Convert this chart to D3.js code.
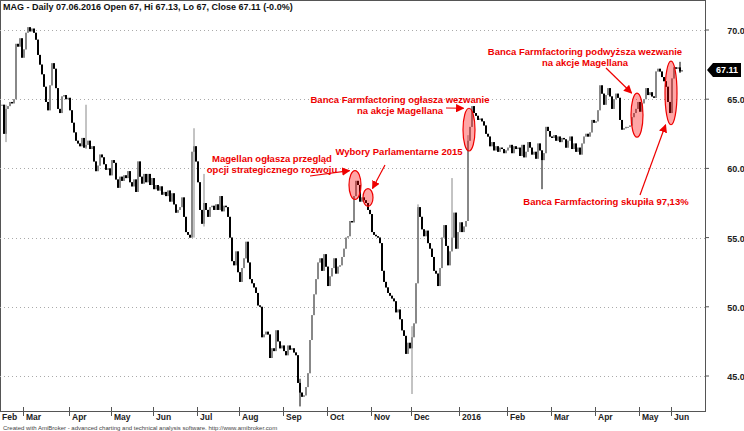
<!DOCTYPE html>
<html><head><meta charset="utf-8">
<script src="https://cdn.jsdelivr.net/npm/d3@7"></script>
<style>body{margin:0;background:#fff}svg{font-family:Arial,"Liberation Sans",sans-serif}</style>
</head><body><svg id="c" width="744" height="431"></svg>
<script>
// daily closes, Feb 2015 - Jun 2016
const closes = [
 64.6,62.5,64.3,64.5,64.8,64.7,65.0,69.0,68.8,69.4,68.0,68.6,
 69.8,70.2,69.9,70.1,69.8,69.3,68.2,67.5,66.8,65.9,64.8,64.2,66.0,67.6,67.2,65.8,64.3,64.0,65.2,65.3,65.0,65.1,64.2,
 63.3,62.6,62.0,61.8,61.6,62.2,61.5,61.7,62.0,61.4,61.6,60.5,59.8,60.2,61.0,60.8,60.3,59.9,60.0,59.5,60.6,
 60.4,59.2,58.6,59.4,59.1,59.5,59.3,59.8,59.0,58.7,59.2,58.3,60.5,59.4,58.9,59.6,59.0,59.6,58.8,59.3,58.5,
 58.8,58.4,58.7,58.1,58.3,58.0,58.4,57.6,58.2,57.4,56.8,57.0,57.2,57.9,56.5,55.4,55.2,55.0,61.2,61.6,60.5,59.0,
 57.0,56.0,57.5,57.0,56.5,57.2,57.3,57.0,57.4,57.0,58.0,56.9,57.3,57.2,56.5,55.0,53.3,53.0,54.0,52.5,51.8,
 52.8,53.5,54.7,53.2,52.0,51.7,51.4,51.0,50.1,50.0,47.8,48.0,48.2,48.0,46.3,47.0,46.8,48.3,47.5,47.0,47.2,46.8,
 46.5,47.2,46.9,47.0,46.7,46.5,44.5,43.8,43.5,43.6,44.2,45.2,47.6,49.4,50.9,52.0,53.2,53.5,52.6,53.8,52.9,51.5,
 52.2,52.8,53.5,52.4,52.9,53.0,53.6,54.2,55.0,55.1,56.2,56.1,58.0,59.1,58.8,57.6,57.9,57.7,57.5,57.0,56.7,55.4,
 55.2,55.1,55.0,54.6,52.6,51.8,51.4,51.0,50.8,50.6,50.4,49.6,49.8,49.1,48.3,47.9,46.6,47.4,47.0,47.8,
 48.8,51.7,57.2,56.5,55.6,55.1,55.5,54.6,54.2,53.6,52.6,52.4,51.5,52.8,55.0,55.9,54.4,53.0,54.0,55.0,
 56.8,54.2,55.4,56.1,55.4,55.8,56.2,
 62.0,63.0,64.5,64.0,63.8,63.5,63.6,63.4,63.1,62.5,62.3,61.6,61.9,61.3,61.6,61.2,61.5,61.4,61.1,61.3,61.5,
 61.7,61.1,61.6,61.4,61.5,60.9,61.7,60.8,61.2,61.9,61.5,61.0,61.2,60.7,61.8,61.3,60.6,61.1,63.0,62.7,62.3,62.2,
 62.4,62.0,62.3,61.9,62.2,62.1,61.5,62.0,62.3,61.4,61.8,61.2,61.5,61.0,61.8,62.3,62.5,62.3,62.6,63.5,63.3,63.4,
 64.2,66.0,65.4,64.6,65.3,65.8,65.2,64.3,65.0,65.4,65.1,63.5,62.8,62.9,63.0,63.0,63.1,63.7,64.0,64.3,64.8,64.1,
 64.7,65.0,65.8,65.3,65.5,65.2,65.1,67.0,67.2,67.0,66.6,66.3,65.9,64.8,64.0,66.5,
 67.3,67.2,67.3,67.0,67.11
];
// bars whose wick reaches beyond the body: [index, high, low]
const wicks = [[2,64.6,61.9],[42,64.6,61.4],[96,62.9,55.0],[101,59.6,55.8],[149,44.8,42.8],
  [205,48.6,43.7],[208,57.4,51.7],[225,59.3,54.5],[233,62.4,60.8],[270,61.3,58.5],[339,67.7,66.9]];
// month labels with bar index where the month starts
const monthLabels = ["Feb","Mar","Apr","May","Jun","Jul","Aug","Sep","Oct","Nov","Dec","2016","Feb","Mar","Apr","May","Jun"];
const monthStart  = [0,12,35,56,77,99,120,142,164,186,206,230,254,276,298,320,336];
const yTicks = [45,50,55,60,65,70];
// annotations
const notes = [
 {lines:["Magellan ogłasza przegląd","opcji strategicznego rozwoju"], tx:272, ty:162, i0:175, i1:178, lo:57.9, hi:59.7, ax:[310,176]},
 {lines:["Wybory Parlamentarne 2015"], tx:399, ty:155, i0:182, i1:184, lo:57.4, hi:58.4, ax:[385,165]},
 {lines:["Banca Farmfactoring ogłasza wezwanie","na akcje Magellana"], tx:400, ty:103, i0:232, i1:235, lo:61.4, hi:64.2, ax:[446,108]},
 {lines:["Banca Farmfactoring podwyższa wezwanie","na akcje Magellana"], tx:585, ty:55, i0:316, i1:319, lo:62.4, hi:65.3, ax:[606,68]},
 {lines:["Banca Farmfactoring skupiła 97,13%"], tx:606, ty:205, i0:333, i1:336, lo:63.3, hi:67.6, ax:[640,195]}
];

const svg = d3.select("#c");
const plotR = 705, plotB = 411;
const x = d3.scaleLinear().domain([0, 1]).range([2, 4]);
const y = d3.scaleLinear().domain([45, 70]).range([376, 30]);

svg.append("rect").attr("x",0.5).attr("y",0.5).attr("width",plotR).attr("height",plotB).attr("fill","none").attr("stroke","#555");

// grid
svg.selectAll(".grid").data(yTicks).enter().append("line")
  .attr("x1",0).attr("x2",plotR).attr("y1",d=>Math.round(y(d))+0.5).attr("y2",d=>Math.round(y(d))+0.5)
  .attr("stroke","#aaa").attr("stroke-dasharray","1,3");
svg.selectAll(".yl").data(yTicks).enter().append("text")
  .attr("x",736).attr("y",d=>y(d)+4).attr("text-anchor","middle")
  .attr("font-size",9).attr("font-weight","bold").attr("fill","#222").text(d=>d.toFixed(1));
svg.selectAll(".yt").data(yTicks).enter().append("line")
  .attr("x1",plotR).attr("x2",plotR+4).attr("y1",d=>y(d)).attr("y2",d=>y(d)).attr("stroke","#555");

// month axis
const mx = i => x(i) - 3;
svg.selectAll(".mt").data(monthStart).enter().append("line")
  .attr("x1",d=>Math.round(mx(d))+0.5).attr("x2",d=>Math.round(mx(d))+0.5).attr("y1",plotB-4).attr("y2",plotB+5).attr("stroke","#555");
svg.selectAll(".ml").data(monthLabels).enter().append("text")
  .attr("x",(d,i)=>mx(monthStart[i])+3).attr("y",420)
  .attr("font-size",8.5).attr("font-weight","bold").attr("fill","#222").text(d=>d);

// candles
const bars = closes.map((c,i)=>{
  const o = i ? closes[i-1] : c;
  let h = Math.max(o,c), l = Math.min(o,c);
  const w = wicks.find(k=>k[0]===i);
  if (w) { h = w[1]; l = w[2]; }
  return {i,o,c,h,l};
});
const g = svg.append("g");
g.selectAll(".wk").data(bars).enter().append("line")
  .attr("x1",d=>x(d.i)).attr("x2",d=>x(d.i)).attr("y1",d=>y(d.h)).attr("y2",d=>y(d.l))
  .attr("stroke",d=>d.c>=d.o?"#888":"#000").attr("stroke-width",1);
g.selectAll(".bd").data(bars).enter().append("rect")
  .attr("x",d=>x(d.i)-1).attr("width",2)
  .attr("y",d=>y(Math.max(d.o,d.c))).attr("height",d=>Math.max(1,Math.abs(y(d.o)-y(d.c))))
  .attr("fill",d=>d.c>=d.o?"#888":"#000");

// last price tag
const last = closes[closes.length-1];
const ly = y(last);
svg.append("path").attr("d",`M707,${ly} L713,${ly-7} L741,${ly-7} L741,${ly+7} L713,${ly+7} Z`).attr("fill","#000");
svg.append("text").attr("x",727).attr("y",ly+3.5).attr("text-anchor","middle").attr("font-size",9)
  .attr("font-weight","bold").attr("fill","#fff").text(last.toFixed(2));

// annotations
svg.append("defs").append("marker").attr("id","ar").attr("viewBox","0 0 10 10").attr("refX",9).attr("refY",5)
  .attr("markerWidth",7).attr("markerHeight",7).attr("orient","auto")
  .append("path").attr("d","M0,0 L10,5 L0,10 Z").attr("fill","#e00");
notes.forEach(n=>{
  const cx = (x(n.i0)+x(n.i1))/2, cy = (y(n.lo)+y(n.hi))/2;
  const rx = (x(n.i1)-x(n.i0))/2+3, ry = (y(n.lo)-y(n.hi))/2+2;
  svg.append("ellipse").attr("cx",cx).attr("cy",cy).attr("rx",rx).attr("ry",ry)
    .attr("fill","rgba(255,0,0,0.35)").attr("stroke","#e00").attr("stroke-width",1.2);
  const t = svg.append("text").attr("font-size",9.5).attr("font-weight","bold").attr("fill","#e00").attr("text-anchor","middle");
  n.lines.forEach((s,k)=>t.append("tspan").attr("x",n.tx).attr("y",n.ty+k*11).text(s));
  const ex = cx + (n.ax[0]<cx ? -rx : (n.ax[0]>cx ? rx : 0)) * 0.9;
  const ey = n.ax[1] < cy ? cy - ry : cy + ry;
  svg.append("line").attr("x1",n.ax[0]).attr("y1",n.ax[1]).attr("x2",ex).attr("y2",ey)
    .attr("stroke","#e00").attr("stroke-width",1.2).attr("marker-end","url(#ar)");
});

// title & footer
svg.append("text").attr("x",3).attr("y",10).attr("font-size",9).attr("font-weight","bold").attr("fill","#111")
  .text("MAG - Daily 07.06.2016 Open 67, Hi 67.13, Lo 67, Close 67.11 (-0.0%)");
svg.append("text").attr("x",3).attr("y",429.5).attr("font-size",6).attr("fill","#444")
  .text("Created with AmiBroker - advanced charting and technical analysis software. http://www.amibroker.com");
</script></body></html>
